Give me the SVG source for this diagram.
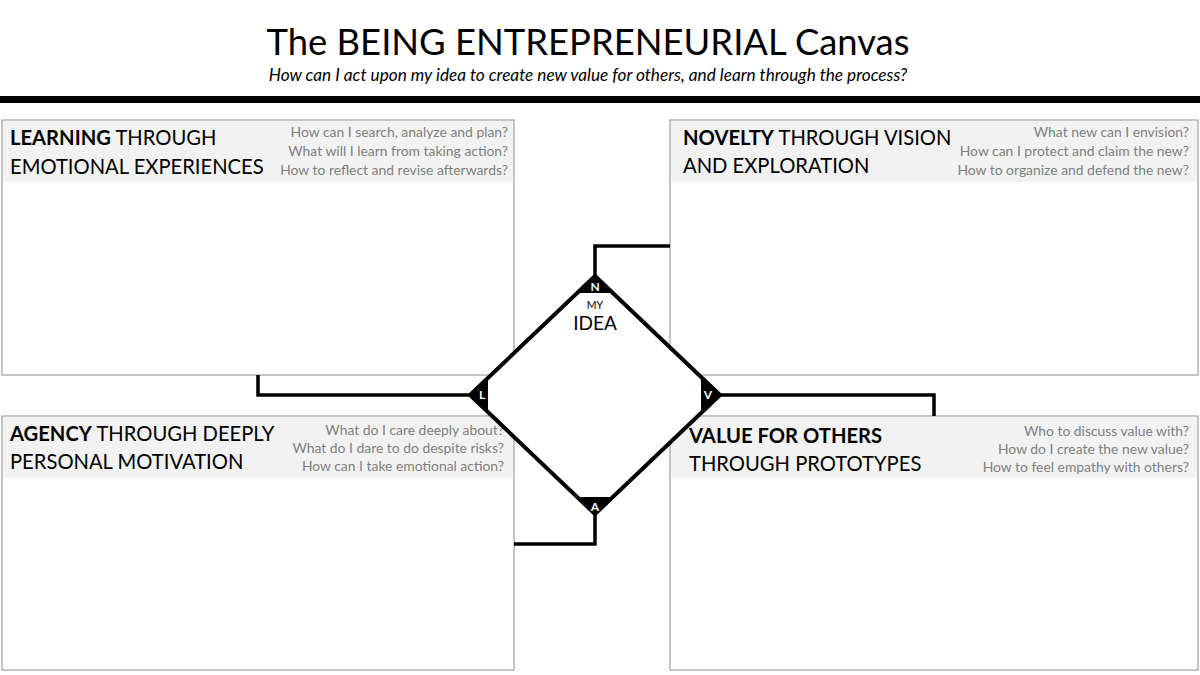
<svg xmlns="http://www.w3.org/2000/svg" width="1200" height="675" viewBox="0 0 1200 675">
<style>
text{font-family:Lato,"Noto Sans",sans-serif;}
.box{fill:#fff;stroke:#a6a6a6;stroke-width:1.3;}
.band{fill:#f2f2f2;}
.hd{font-size:20.2px;fill:#000;}
.b{font-weight:bold;}
.q{font-size:13.9px;fill:#7f7f7f;text-anchor:end;}
.conn{fill:none;stroke:#000;stroke-width:3.5;}
.tri{fill:#000;}
.lt{font-size:12px;font-weight:bold;fill:#fff;text-anchor:middle;}
</style>
<rect width="1200" height="675" fill="#fff"/>
<g id="title">
<text x="588" y="55" font-size="36.4" text-anchor="middle">The BEING ENTREPRENEURIAL Canvas</text>
<text x="588" y="81" font-size="17.2" font-style="italic" text-anchor="middle">How can I act upon my idea to create new value for others, and learn through the process?</text>
<rect x="0" y="96" width="1200" height="7" fill="#000"/>
</g>
<g id="learning">
<rect class="box" x="2" y="120" width="512" height="255"/>
<rect class="band" x="3" y="121" width="510" height="61"/>
<text class="hd" x="10" y="145"><tspan class="b">LEARNING</tspan> THROUGH</text>
<text class="hd" x="10" y="174">EMOTIONAL EXPERIENCES</text>
<text class="q" x="508" y="137">How can I search, analyze and plan?</text>
<text class="q" x="508" y="156">What will I learn from taking action?</text>
<text class="q" x="508" y="175">How to reflect and revise afterwards?</text>
</g>
<g id="novelty">
<rect class="box" x="670" y="120" width="528" height="255"/>
<rect class="band" x="671" y="121" width="526" height="61"/>
<text class="hd" x="683" y="145"><tspan class="b">NOVELTY</tspan> THROUGH VISION</text>
<text class="hd" x="683" y="173">AND EXPLORATION</text>
<text class="q" x="1189" y="137">What new can I envision?</text>
<text class="q" x="1189" y="156">How can I protect and claim the new?</text>
<text class="q" x="1189" y="175">How to organize and defend the new?</text>
</g>
<g id="agency">
<rect class="box" x="2" y="416" width="512" height="254"/>
<rect class="band" x="3" y="417" width="510" height="61"/>
<text class="hd" x="10" y="441"><tspan class="b">AGENCY</tspan> THROUGH DEEPLY</text>
<text class="hd" x="10" y="469">PERSONAL MOTIVATION</text>
<text class="q" x="504" y="435">What do I care deeply about?</text>
<text class="q" x="504" y="453">What do I dare to do despite risks?</text>
<text class="q" x="504" y="471">How can I take emotional action?</text>
</g>
<g id="value">
<rect class="box" x="670" y="416" width="528" height="254"/>
<rect class="band" x="671" y="417" width="526" height="61"/>
<text class="hd" x="689" y="443"><tspan class="b">VALUE FOR OTHERS</tspan></text>
<text class="hd" x="689" y="471"> THROUGH PROTOTYPES</text>
<text class="q" x="1189" y="436">Who to discuss value with?</text>
<text class="q" x="1189" y="454">How do I create the new value?</text>
<text class="q" x="1189" y="472">How to feel empathy with others?</text>
</g>
<g id="connectors">
<polyline class="conn" points="595,278 595,246 670,246"/>
<polyline class="conn" points="472,395 258,395 258,375"/>
<polyline class="conn" points="718,395 934,395 934,416"/>
<polyline class="conn" points="595,512 595,544 514,544"/>
</g>
<g id="idea">
<polygon points="595,276 720,395 595,514 470,395" fill="#fff" stroke="#000" stroke-width="4" stroke-linejoin="miter"/>
<polygon class="tri" points="595,274 614,293 576,293"/>
<polygon class="tri" points="468,395 488,376 488,414"/>
<polygon class="tri" points="722,395 701,375 701,415"/>
<polygon class="tri" points="595,516 614,497 576,497"/>
<text class="lt" x="595" y="291">N</text>
<text class="lt" x="482" y="399">L</text>
<text class="lt" x="708" y="399">V</text>
<text class="lt" x="595" y="511">A</text>
<text x="595" y="309" font-size="10.5" text-anchor="middle">MY</text>
<text x="595" y="330" font-size="19" text-anchor="middle">IDEA</text>
</g>
</svg>
